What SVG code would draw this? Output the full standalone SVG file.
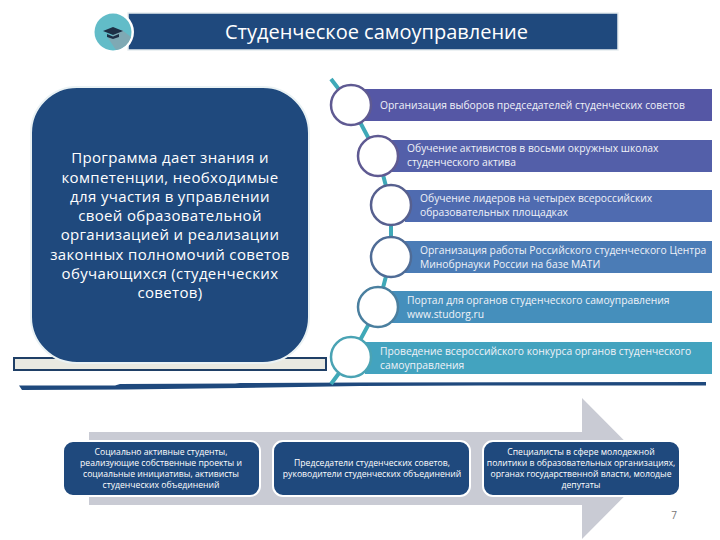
<svg xmlns="http://www.w3.org/2000/svg" width="720" height="540" viewBox="0 0 720 540">
<style>
text{font-family:"Open Sans","DejaVu Sans",sans-serif;fill:#fff}
.bar{font-size:10.3px;fill:#f0f2f8}
.box{font-size:8.65px;text-anchor:middle}
.main{font-size:15px;text-anchor:middle;letter-spacing:.35px}
.c{fill:#fff;stroke-width:2.5}
.nb{fill:#1f497d;stroke:#fff;stroke-width:2}
</style>
<rect width="720" height="540" fill="#fff"/>
<g id="header">
<rect x="128" y="13" width="490" height="37" fill="#1f497d" stroke="#e6edf0" stroke-width="1.5"/>
<text x="376.500" y="38.500" font-size="20" text-anchor="middle">Студенческое самоуправление</text>
</g>
<g id="header-icon">
<circle cx="113" cy="32" r="21" fill="#fff"/>
<circle cx="113" cy="32" r="18.500" fill="#62bcc8"/>
<path d="M122 30L131 37A18.500 18.500 0 0 1 116 50L108 38Z" fill="#7fa9b4"/>
<path d="M103 31L113 27L123 31L113 35Z" fill="#1d2f45"/>
<path d="M107 34L113 36.500L119 34V37L113 39L107 37Z" fill="#1d2f45"/>
</g>
<g id="panel">
<rect x="14" y="358" width="312" height="12" fill="#e9e9e1" stroke="#1f3f66" stroke-width="2"/>
<rect x="31" y="87" width="278" height="276" rx="46" fill="#1f497d" stroke="#eaf2f4" stroke-width="2"/>
<text class="main"><tspan x="170" y="163">Программа дает знания и</tspan><tspan x="170" y="183">компетенции, необходимые</tspan><tspan x="170" y="202">для участия в управлении</tspan><tspan x="170" y="221">своей образовательной</tspan><tspan x="170" y="240">организацией и реализации</tspan><tspan x="170" y="260">законных полномочий советов</tspan><tspan x="170" y="279">обучающихся (студенческих</tspan><tspan x="170" y="298">советов)</tspan></text>
</g>
<polygon id="rule" points="19,385.500 115,385.500 120,384 235,383.500 240,383 360,382.500 706,382 706,385.500 480,385.500 360,386 240,388 125,389.500 22,390" fill="#1f497d"/>
<g id="connectors">
<path d="M331 79L351 105L378 156L391 205V257L378 307L351 357L331 384" fill="none" stroke="#3fa9b8" stroke-width="4"/>
</g>
<polygon id="arrow" points="89,432 582,432 582,398 652,468.500 582,539 582,505 89,505" fill="#c9cbd4"/>
<g id="item1">
<rect x="365" y="89" width="347" height="32" fill="#5557a5"/>
<circle class="c" cx="351" cy="105" r="20" stroke="#5f5a92"/>
<text class="bar" x="380" y="109">Организация выборов председателей студенческих советов</text>
</g>
<g id="item2">
<rect x="392" y="140" width="320" height="32" fill="#535fa9"/>
<circle class="c" cx="378" cy="156" r="20" stroke="#5f5a92"/>
<text class="bar"><tspan x="407" y="152">Обучение активистов в восьми окружных школах</tspan><tspan x="407" y="166">студенческого актива</tspan></text>
</g>
<g id="item3">
<rect x="405" y="190" width="307" height="32" fill="#4f6bb0"/>
<circle class="c" cx="391" cy="205" r="20" stroke="#57608f"/>
<text class="bar"><tspan x="420" y="202">Обучение лидеров на четырех всероссийских</tspan><tspan x="420" y="216">образовательных площадках</tspan></text>
</g>
<g id="item4">
<rect x="405" y="241" width="307" height="32" fill="#4b7cb6"/>
<circle class="c" cx="391" cy="257" r="20" stroke="#4f6c96"/>
<text class="bar"><tspan x="420" y="254">Организация работы Российского студенческого Центра</tspan><tspan x="420" y="268">Минобрнауки России на базе МАТИ</tspan></text>
</g>
<g id="item5">
<rect x="392" y="291" width="320" height="32" fill="#458fbc"/>
<circle class="c" cx="378" cy="307" r="20" stroke="#4a7f9f"/>
<text class="bar"><tspan x="407" y="304">Портал для органов студенческого самоуправления</tspan><tspan x="407" y="318">www.studorg.ru</tspan></text>
</g>
<g id="item6">
<rect x="365" y="342" width="347" height="32" fill="#43a3bf"/>
<circle class="c" cx="351" cy="357" r="20" stroke="#4aa3b4"/>
<text class="bar"><tspan x="380" y="355">Проведение всероссийского конкурса органов студенческого</tspan><tspan x="380" y="369">самоуправления</tspan></text>
</g>
<g id="box1">
<rect class="nb" x="63" y="441" width="197" height="55" rx="10"/>
<text class="box"><tspan x="161" y="455">Социально активные студенты,</tspan><tspan x="161" y="466">реализующие собственные проекты и</tspan><tspan x="161" y="477">социальные инициативы, активисты</tspan><tspan x="161" y="488">студенческих объединений</tspan></text>
</g>
<g id="box2">
<rect class="nb" x="273" y="441" width="197" height="55" rx="10"/>
<text class="box"><tspan x="372" y="466">Председатели студенческих советов,</tspan><tspan x="372" y="477">руководители студенческих объединений</tspan></text>
</g>
<g id="box3">
<rect class="nb" x="483" y="441" width="197" height="55" rx="10"/>
<text class="box"><tspan x="581" y="455">Специалисты в сфере молодежной</tspan><tspan x="581" y="466">политики в образовательных организациях,</tspan><tspan x="581" y="477">органах государственной власти, молодые</tspan><tspan x="581" y="488">депутаты</tspan></text>
</g>
<text x="674" y="519" font-size="10" text-anchor="middle" style="fill:#777">7</text>
</svg>
